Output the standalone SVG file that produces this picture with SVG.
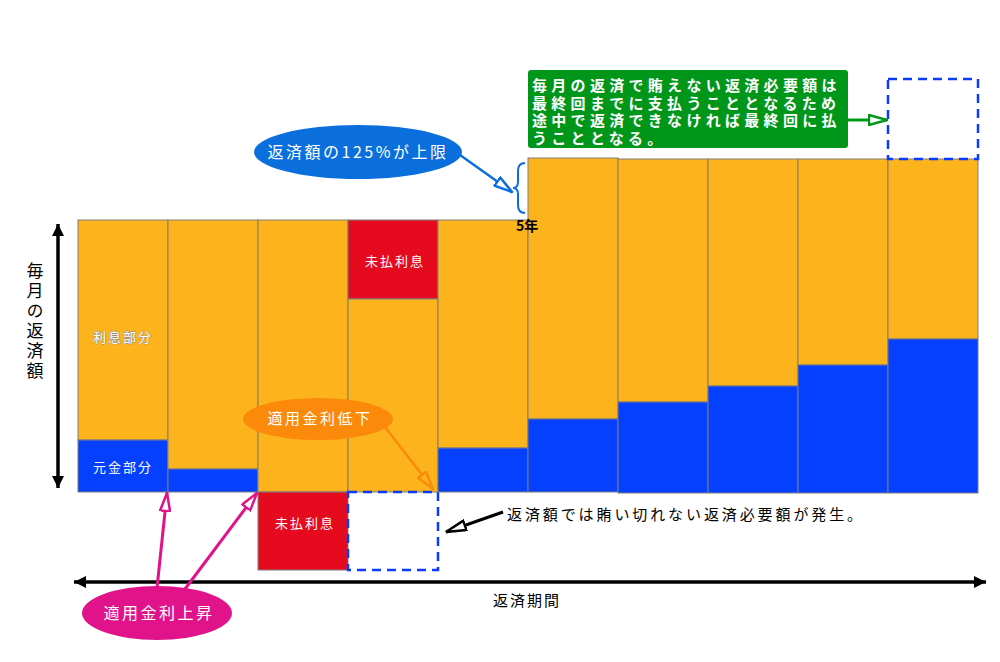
<svg xmlns="http://www.w3.org/2000/svg" width="1000" height="662" viewBox="0 0 1000 662">
<style>
text{font-family:"Noto Sans CJK JP","Noto Sans",sans-serif}
.o{fill:#FDB31C;stroke:#7f7f7f;stroke-width:1}
.b{fill:#0640FF;stroke:#7f7f7f;stroke-width:1}
.r{fill:#E60A1E;stroke:#7f7f7f;stroke-width:1}
.d{fill:none;stroke:#0A3CFF;stroke-width:2.5;stroke-dasharray:9,6}
.w{fill:#fff;font-size:13px;letter-spacing:2px;text-anchor:middle}
.lbl{fill:#fff;font-size:16px;letter-spacing:2.5px;text-anchor:middle}
.ax{stroke:#000;stroke-width:3.5;fill:none}
.gt{font-family:"Liberation Sans","Noto Sans CJK JP",sans-serif;fill:#fff;font-size:15px;letter-spacing:4.3px;font-weight:bold}
</style>
<defs>
<marker id="ahk" viewBox="0 0 10 10" refX="10" refY="5" markerWidth="12" markerHeight="12" markerUnits="userSpaceOnUse" orient="auto-start-reverse"><path d="M0,0 L10,5 L0,10 z" fill="#000"/></marker>
<marker id="hm" viewBox="0 0 20 12" refX="19" refY="6" markerWidth="20" markerHeight="12" markerUnits="userSpaceOnUse" orient="auto"><path d="M1,1 L19,6 L1,11 z" fill="#fff" stroke="#E0138A" stroke-width="2.5"/></marker>
<marker id="ho" viewBox="0 0 20 12" refX="19" refY="6" markerWidth="20" markerHeight="12" markerUnits="userSpaceOnUse" orient="auto"><path d="M1,1 L19,6 L1,11 z" fill="#FDB31C" stroke="#FB8A0A" stroke-width="2.5"/></marker>
<marker id="hb" viewBox="0 0 20 12" refX="19" refY="6" markerWidth="20" markerHeight="12" markerUnits="userSpaceOnUse" orient="auto"><path d="M1,1 L19,6 L1,11 z" fill="#fff" stroke="#0A6FDC" stroke-width="2.5"/></marker>
<marker id="hg" viewBox="0 0 20 12" refX="19" refY="6" markerWidth="20" markerHeight="12" markerUnits="userSpaceOnUse" orient="auto"><path d="M1,1 L19,6 L1,11 z" fill="#fff" stroke="#00961A" stroke-width="2.5"/></marker>
<marker id="hk" viewBox="0 0 22 12" refX="21" refY="6" markerWidth="22" markerHeight="12" markerUnits="userSpaceOnUse" orient="auto"><path d="M1,1 L21,6 L1,11 z" fill="#fff" stroke="#000" stroke-width="2.5"/></marker>
</defs>
<rect width="1000" height="662" fill="#fff"/>

<g id="bars">
<g id="col1"><rect class="o" x="78" y="220" width="90" height="220"/><rect class="b" x="78" y="440" width="90" height="52"/>
<text class="w" x="123" y="342" style="stroke:#8a8a8a;stroke-width:0.8;paint-order:stroke">利息部分</text>
<text class="w" x="123" y="472">元金部分</text></g>
<g id="col2"><rect class="o" x="168" y="220" width="90" height="249"/><rect class="b" x="168" y="469" width="90" height="23"/></g>
<g id="col3"><rect class="o" x="258" y="220" width="90" height="272"/><rect class="r" x="258" y="492" width="90" height="78"/>
<text class="w" x="305" y="528">未払利息</text></g>
<g id="col4"><rect class="r" x="348" y="220" width="90" height="79"/><rect class="o" x="348" y="299" width="90" height="193"/>
<text class="w" x="395" y="266">未払利息</text>
<rect class="d" x="348" y="492" width="90" height="78"/></g>
<g id="col5"><rect class="o" x="438" y="220" width="90" height="228"/><rect class="b" x="438" y="448" width="90" height="44"/></g>
<g id="col6"><rect class="o" x="528" y="158" width="90" height="261"/><rect class="b" x="528" y="419" width="90" height="73"/></g>
<g id="col7"><rect class="o" x="618" y="159" width="90" height="243"/><rect class="b" x="618" y="402" width="90" height="91"/></g>
<g id="col8"><rect class="o" x="708" y="159" width="90" height="227"/><rect class="b" x="708" y="386" width="90" height="107"/></g>
<g id="col9"><rect class="o" x="798" y="159" width="90" height="206"/><rect class="b" x="798" y="365" width="90" height="128"/></g>
<g id="col10"><rect class="o" x="888" y="159" width="90" height="180"/><rect class="b" x="888" y="339" width="90" height="154"/>
<rect class="d" x="888" y="79" width="90" height="80"/></g>
</g>

<g id="axes">
<line class="ax" x1="58" y1="224" x2="58" y2="488" marker-start="url(#ahk)" marker-end="url(#ahk)"/>
<line class="ax" x1="74" y1="582" x2="986" y2="582" marker-start="url(#ahk)" marker-end="url(#ahk)"/>
<text x="35" y="262" font-size="17" letter-spacing="3" fill="#000" style="writing-mode:vertical-rl">毎月の返済額</text>
<text x="527" y="606" font-size="15" letter-spacing="2" text-anchor="middle" fill="#000">返済期間</text>
<text x="516" y="231" font-size="14" font-weight="bold" fill="#000">5年</text>
<path d="M525 163 Q518 163 518 171 L518 182 Q518 188 513 188 Q518 188 518 194 L518 205 Q518 213 525 213" fill="none" stroke="#0A6FDC" stroke-width="2"/>
</g>

<g id="connectors">
<line x1="157" y1="588" x2="167" y2="493" stroke="#E0138A" stroke-width="3" marker-end="url(#hm)"/>
<line x1="185" y1="589" x2="257" y2="493" stroke="#E0138A" stroke-width="3" marker-end="url(#hm)"/>
<line x1="385" y1="427" x2="433" y2="489" stroke="#FB8A0A" stroke-width="2.5" marker-end="url(#ho)"/>
<line x1="460" y1="155" x2="512" y2="192" stroke="#0A6FDC" stroke-width="2.5" marker-end="url(#hb)"/>
<line x1="848" y1="120" x2="887" y2="120" stroke="#00961A" stroke-width="3" marker-end="url(#hg)"/>
<line x1="503" y1="512" x2="446" y2="532" stroke="#000" stroke-width="3" marker-end="url(#hk)"/>
</g>

<g id="note-green">
<rect x="528" y="70" width="320" height="78" rx="3" fill="#00961A"/>
<text class="gt" x="532" y="91">毎月の返済で賄えない返済必要額は</text>
<text class="gt" x="532" y="108.5">最終回までに支払うこととなるため</text>
<text class="gt" x="532" y="126">途中で返済できなければ最終回に払</text>
<text class="gt" x="532" y="143.5">うこととなる。</text>
</g>

<g id="note-blue">
<ellipse cx="358" cy="152" rx="104" ry="27" fill="#0A6FDC"/>
<text class="lbl" x="358" y="158" font-size="17" letter-spacing="2">返済額の125%が上限</text>
</g>

<g id="note-orange">
<ellipse cx="318" cy="419" rx="75" ry="21" fill="#FB8A0A"/>
<text class="lbl" x="320" y="424" style="font-size:15px">適用金利低下</text>
</g>

<g id="note-magenta">
<ellipse cx="157" cy="613" rx="75" ry="27" fill="#E0138A"/>
<text class="lbl" x="159" y="619">適用金利上昇</text>
</g>

<g id="note-black">
<text x="507" y="520" font-size="15" letter-spacing="2.9" fill="#000">返済額では賄い切れない返済必要額が発生。</text>
</g>
</svg>
